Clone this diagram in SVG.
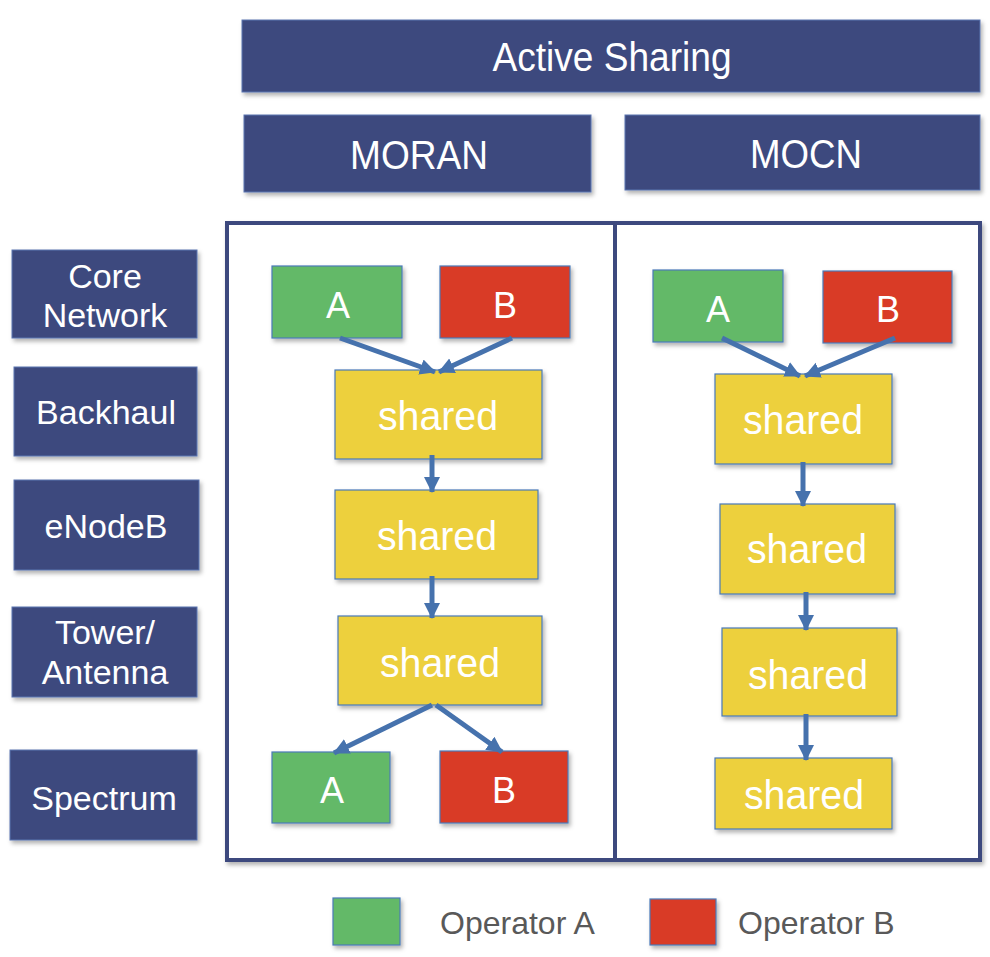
<svg xmlns="http://www.w3.org/2000/svg" width="990" height="957" viewBox="0 0 990 957">
<style>
.nav{fill:#3d4a7e;stroke:#5a74b0;stroke-width:1;filter:url(#sh)}
.ga{fill:#64b967;stroke:#4a7ab8;stroke-width:1.2;filter:url(#sh)}
.rb{fill:#d93a26;stroke:#4a7ab8;stroke-width:1.2;filter:url(#sh)}
.yl{fill:#edd03c;stroke:#4a7ab8;stroke-width:1.2;filter:url(#sh)}
text{font-family:"Liberation Sans",Arial,sans-serif;fill:#ffffff;text-anchor:middle}
.big{font-size:40px}
.lab{font-size:34px}
.op{font-size:36px}
.sh{font-size:40px}
.leg{font-size:32px;fill:#595959;text-anchor:start}
.con{stroke:#4672ad;stroke-width:5;fill:none;marker-end:url(#ah)}
</style>
<defs>
<filter id="sh" x="-10%" y="-10%" width="125%" height="130%">
<feDropShadow dx="2" dy="3" stdDeviation="2" flood-color="#000" flood-opacity="0.3"/>
</filter>
<marker id="ah" markerUnits="userSpaceOnUse" markerWidth="18" markerHeight="18" viewBox="0 0 18 18" refX="15" refY="9" orient="auto">
<path d="M0,1 L16,9 L0,17 Z" fill="#4672ad"/>
</marker>
</defs>
<rect width="990" height="957" fill="#ffffff"/>

<g id="active-sharing"><rect class="nav" x="242" y="20" width="738" height="72"/><text class="big" x="612" y="71" textLength="239" lengthAdjust="spacingAndGlyphs">Active Sharing</text></g>
<g id="moran"><rect class="nav" x="244" y="115" width="347" height="77"/><text class="big" x="419" y="169" textLength="138" lengthAdjust="spacingAndGlyphs">MORAN</text></g>
<g id="mocn"><rect class="nav" x="625" y="115" width="355" height="75"/><text class="big" x="806" y="168" textLength="112" lengthAdjust="spacingAndGlyphs">MOCN</text></g>

<g id="frame" style="filter:url(#sh)">
<rect x="227" y="223" width="753" height="637" fill="#ffffff" stroke="#3d4a7e" stroke-width="4"/>
<line x1="615" y1="223" x2="615" y2="860" stroke="#3d4a7e" stroke-width="4"/>
</g>

<g id="core-network"><rect class="nav" x="12" y="250" width="185" height="88"/><text class="lab" x="105" y="288">Core</text><text class="lab" x="105" y="327">Network</text></g>
<g id="backhaul"><rect class="nav" x="14" y="367" width="183" height="89"/><text class="lab" x="106" y="424">Backhaul</text></g>
<g id="enodeb"><rect class="nav" x="14" y="480" width="185" height="90"/><text class="lab" x="106" y="538">eNodeB</text></g>
<g id="tower-antenna"><rect class="nav" x="12" y="607" width="185" height="90"/><text class="lab" x="105" y="644">Tower/</text><text class="lab" x="105" y="684">Antenna</text></g>
<g id="spectrum"><rect class="nav" x="10" y="750" width="187" height="90"/><text class="lab" x="104" y="810">Spectrum</text></g>

<g id="moran-core-a"><rect class="ga" x="272" y="266" width="130" height="72"/><text class="op" x="338" y="318">A</text></g>
<g id="moran-core-b"><rect class="rb" x="440" y="266" width="130" height="72"/><text class="op" x="505" y="318">B</text></g>
<g id="moran-backhaul"><rect class="yl" x="335" y="370" width="207" height="89"/><text class="sh" x="438" y="430" textLength="120" lengthAdjust="spacingAndGlyphs">shared</text></g>
<g id="moran-enodeb"><rect class="yl" x="335" y="490" width="203" height="89"/><text class="sh" x="437" y="550" textLength="120" lengthAdjust="spacingAndGlyphs">shared</text></g>
<g id="moran-tower"><rect class="yl" x="338" y="616" width="204" height="89"/><text class="sh" x="440" y="677" textLength="120" lengthAdjust="spacingAndGlyphs">shared</text></g>
<g id="moran-spec-a"><rect class="ga" x="272" y="752" width="118" height="71"/><text class="op" x="332" y="803">A</text></g>
<g id="moran-spec-b"><rect class="rb" x="440" y="751" width="128" height="72"/><text class="op" x="504" y="803">B</text></g>

<g id="mocn-core-a"><rect class="ga" x="653" y="270" width="130" height="72"/><text class="op" x="718" y="322">A</text></g>
<g id="mocn-core-b"><rect class="rb" x="823" y="271" width="129" height="72"/><text class="op" x="888" y="322">B</text></g>
<g id="mocn-backhaul"><rect class="yl" x="715" y="374" width="177" height="90"/><text class="sh" x="803" y="434" textLength="120" lengthAdjust="spacingAndGlyphs">shared</text></g>
<g id="mocn-enodeb"><rect class="yl" x="720" y="504" width="175" height="90"/><text class="sh" x="807" y="563" textLength="120" lengthAdjust="spacingAndGlyphs">shared</text></g>
<g id="mocn-tower"><rect class="yl" x="722" y="628" width="175" height="88"/><text class="sh" x="808" y="689" textLength="120" lengthAdjust="spacingAndGlyphs">shared</text></g>
<g id="mocn-spectrum"><rect class="yl" x="715" y="758" width="177" height="71"/><text class="sh" x="804" y="809" textLength="120" lengthAdjust="spacingAndGlyphs">shared</text></g>

<g id="connectors">
<line class="con" x1="340" y1="338" x2="435" y2="372"/>
<line class="con" x1="512" y1="338" x2="439" y2="372"/>
<line class="con" x1="432" y1="455" x2="432" y2="492"/>
<line class="con" x1="432" y1="576" x2="432" y2="618"/>
<line class="con" x1="432" y1="705" x2="334" y2="753"/>
<line class="con" x1="436" y1="705" x2="502" y2="752"/>
<line class="con" x1="722" y1="338" x2="800" y2="376"/>
<line class="con" x1="895" y1="338" x2="805" y2="376"/>
<line class="con" x1="803" y1="462" x2="803" y2="506"/>
<line class="con" x1="806" y1="592" x2="806" y2="630"/>
<line class="con" x1="806" y1="714" x2="806" y2="760"/>
</g>

<g id="legend-a"><rect class="ga" x="333" y="898" width="67" height="47"/><text class="leg" x="440" y="934">Operator A</text></g>
<g id="legend-b"><rect class="rb" x="650" y="899" width="66" height="46"/><text class="leg" x="738" y="934">Operator B</text></g>
</svg>
